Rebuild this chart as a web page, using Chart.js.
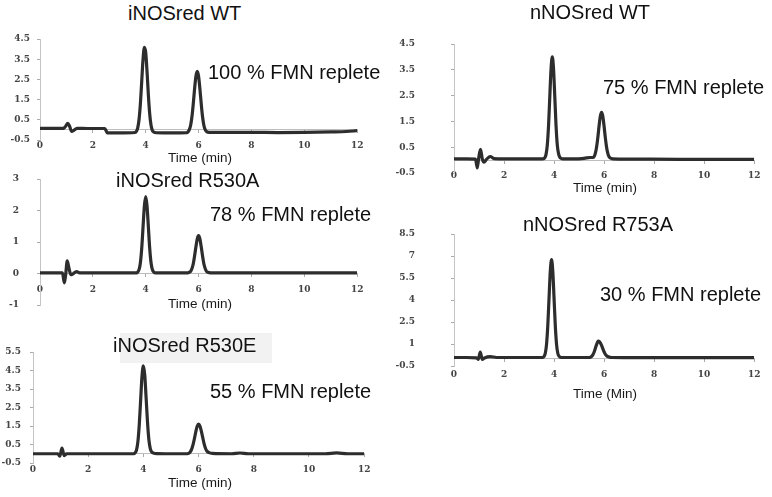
<!DOCTYPE html>
<html>
<head>
<meta charset="utf-8">
<script src="https://cdn.jsdelivr.net/npm/chart.js@4.4.1/dist/chart.umd.min.js"></script>
<style>
  body { margin: 0; background: #fff; width: 772px; height: 497px; overflow: hidden; position: relative;
         font-family: "Liberation Sans", Arial, sans-serif; }
  canvas { position: absolute; }
  .lbl { position: absolute; font-size: 20px; line-height: 20px; color: #111; white-space: nowrap; }
  .xt { position: absolute; width: 120px; text-align: center; font-size: 13.5px; line-height: 14px; color: #1a1a1a; }
  .shade { position: absolute; background: #f2f2f2; }
</style>
</head>
<body>
<div class="shade" style="left:120px;top:333px;width:152px;height:30px"></div>

<canvas id="c1"></canvas>
<canvas id="c2"></canvas>
<canvas id="c3"></canvas>
<canvas id="c4"></canvas>
<canvas id="c5"></canvas>

<div class="lbl" style="left:128px;top:3px">iNOSred WT</div>
<div class="lbl" style="left:208px;top:62px">100 % FMN replete</div>
<div class="lbl" style="left:116px;top:170px">iNOSred R530A</div>
<div class="lbl" style="left:210px;top:204px">78 % FMN replete</div>
<div class="lbl" style="left:113px;top:335px">iNOSred R530E</div>
<div class="lbl" style="left:210px;top:381px">55 % FMN replete</div>
<div class="lbl" style="left:530px;top:2px">nNOSred WT</div>
<div class="lbl" style="left:603px;top:77px">75 % FMN replete</div>
<div class="lbl" style="left:523px;top:214px">nNOSred R753A</div>
<div class="lbl" style="left:600px;top:284px">30 % FMN replete</div>

<div class="xt" style="left:140px;top:151px">Time (min)</div>
<div class="xt" style="left:140px;top:297px">Time (min)</div>
<div class="xt" style="left:140px;top:476px">Time (min)</div>
<div class="xt" style="left:545px;top:181px">Time (min)</div>
<div class="xt" style="left:545px;top:387px">Time (Min)</div>

<script>
// iNOSred WT
const iwtTime = [0, 0.5, 0.9, 0.98, 1.05, 1.12, 1.2, 1.28, 1.4, 1.8, 2.45, 2.55, 3.0,
  3.6, 3.65, 3.7, 3.75, 3.8, 3.85, 3.9, 3.95, 4.0, 4.05, 4.1, 4.15, 4.2, 4.25, 4.3, 4.4, 5.0,
  5.55, 5.6, 5.65, 5.7, 5.75, 5.8, 5.85, 5.9, 5.95, 6.0, 6.05, 6.1, 6.15, 6.2, 6.25, 6.3, 6.4,
  7, 8, 9, 10, 11, 11.6, 12];
const iwtSignal = [0.08, 0.08, 0.08, 0.2, 0.33, 0.18, -0.08, -0.02, 0.08, 0.07, 0.07, -0.15, -0.15,
  -0.13, -0.07, 0.11, 0.54, 1.32, 2.43, 3.51, 4.09, 3.83, 2.89, 1.74, 0.81, 0.24, -0.02, -0.1, -0.14, -0.15,
  -0.14, -0.1, 0.01, 0.23, 0.66, 1.3, 2.04, 2.66, 2.9, 2.66, 2.04, 1.3, 0.66, 0.23, 0.01, -0.08, -0.12,
  -0.12, -0.12, -0.13, -0.12, -0.1, -0.08, -0.04];

// iNOSred R530A
const iaTime = [0, 0.5, 0.85, 0.92, 0.97, 1.03, 1.1, 1.17, 1.25, 1.38, 1.5, 2, 3,
  3.65, 3.7, 3.75, 3.8, 3.85, 3.9, 3.95, 4.0, 4.05, 4.1, 4.15, 4.2, 4.25, 4.3, 4.38, 5,
  5.6, 5.65, 5.7, 5.75, 5.8, 5.85, 5.9, 5.95, 6.0, 6.05, 6.1, 6.15, 6.2, 6.25, 6.3, 6.35, 6.45,
  8, 10, 12];
const iaSignal = [0.02, 0.02, 0.02, -0.3, -0.05, 0.4, 0.15, -0.04, -0.01, 0.06, 0.02, 0.02, 0.02,
  0.02, 0.05, 0.13, 0.35, 0.81, 1.49, 2.15, 2.44, 2.15, 1.49, 0.81, 0.35, 0.13, 0.05, 0.02, 0.02,
  0.02, 0.04, 0.07, 0.16, 0.31, 0.56, 0.85, 1.1, 1.2, 1.1, 0.85, 0.56, 0.31, 0.16, 0.07, 0.04, 0.02,
  0.02, 0.02, 0.02];

// iNOSred R530E
const ieTime = [0, 0.5, 0.9, 0.97, 1.05, 1.13, 1.22, 2, 3,
  3.65, 3.7, 3.75, 3.8, 3.85, 3.9, 3.95, 4.0, 4.05, 4.1, 4.15, 4.2, 4.25, 4.3, 4.38, 4.5, 5.2,
  5.6, 5.65, 5.7, 5.75, 5.8, 5.85, 5.9, 5.95, 6.0, 6.05, 6.1, 6.15, 6.2, 6.25, 6.3, 6.38, 6.5,
  7.2, 7.5, 7.8, 9, 10.6, 11, 11.4, 12];
const ieSignal = [0, 0, 0, -0.13, 0.3, -0.1, 0, 0, 0,
  0, 0.05, 0.2, 0.64, 1.55, 2.88, 4.19, 4.75, 4.25, 3.0, 1.7, 0.75, 0.28, 0.1, 0.03, 0.01, 0,
  0, 0.03, 0.1, 0.25, 0.49, 0.82, 1.19, 1.49, 1.6, 1.5, 1.22, 0.88, 0.55, 0.3, 0.15, 0.06, 0.02,
  0, 0.04, 0, 0, 0, 0.05, 0, 0];

// nNOSred WT
const nwtTime = [0, 0.5, 0.86, 0.93, 0.99, 1.06, 1.13, 1.2, 1.3, 1.45, 1.6, 2, 3,
  3.55, 3.63, 3.68, 3.73, 3.78, 3.83, 3.88, 3.93, 3.98, 4.03, 4.08, 4.13, 4.18, 4.23, 4.28, 4.35,
  4.8, 5.2, 5.45,
  5.55, 5.6, 5.65, 5.7, 5.75, 5.8, 5.85, 5.9, 5.95, 6.0, 6.05, 6.1, 6.15, 6.2, 6.25, 6.35,
  7, 9, 11, 12];
const nwtSignal = [0.05, 0.05, 0.04, -0.3, 0.1, 0.42, 0.05, -0.08, 0.03, 0.14, 0.06, 0.05, 0.05,
  0.05, 0.09, 0.22, 0.58, 1.33, 2.45, 3.53, 4.0, 3.53, 2.45, 1.33, 0.58, 0.25, 0.11, 0.07, 0.05,
  0.05, 0.07, 0.1,
  0.1, 0.13, 0.26, 0.5, 0.87, 1.32, 1.7, 1.85, 1.7, 1.32, 0.87, 0.5, 0.26, 0.13, 0.08, 0.05,
  0.04, 0.03, 0.03, 0.03];

// nNOSred R753A
const naTime = [0, 0.5, 0.9, 0.97, 1.05, 1.13, 1.22, 1.45, 1.7, 2.5,
  3.55, 3.6, 3.65, 3.7, 3.75, 3.8, 3.85, 3.9, 3.95, 4.0, 4.05, 4.1, 4.15, 4.2, 4.25, 4.35, 5.0,
  5.4, 5.45, 5.5, 5.55, 5.6, 5.65, 5.7, 5.75, 5.78, 5.85, 5.9, 5.95, 6.0, 6.05, 6.1, 6.2, 6.3,
  7, 9, 11, 12];
const naSignal = [0.08, 0.08, 0.06, -0.05, 0.45, -0.05, 0.05, 0.14, 0.08, 0.08,
  0.08, 0.15, 0.37, 0.98, 2.25, 4.13, 5.96, 6.75, 5.96, 4.13, 2.25, 0.98, 0.37, 0.17, 0.1, 0.08, 0.08,
  0.08, 0.1, 0.15, 0.26, 0.44, 0.7, 0.96, 1.17, 1.2, 1.08, 0.9, 0.68, 0.47, 0.3, 0.2, 0.11, 0.08,
  0.07, 0.07, 0.07, 0.07];

const tickFont = {family: "'DejaVu Serif', serif", size: 9, weight: 'bold'};

// where each small plot sits on the page
const boxes = {
  c1: {left: 0, axisX: 40, rightX: 359, topY: 39, botY: 140, labelPad: 7},
  c2: {left: 0, axisX: 40, rightX: 359, topY: 179, botY: 305, labelPad: 18},
  c3: {left: 0, axisX: 33, rightX: 366, topY: 352, botY: 463, labelPad: 9},
  c4: {left: 390, axisX: 454, rightX: 756, topY: 44, botY: 173, labelPad: 36},
  c5: {left: 390, axisX: 454, rightX: 756, topY: 234, botY: 366, labelPad: 36}
};

function makePanel(id, times, signal, yMin, yMax, yStep) {
  const p = boxes[id];
  const cv = document.getElementById(id);
  const yWidth = p.axisX - p.left;
  // the y axis asks for half a label plus its tick padding above the plot
  const top = Math.ceil(p.labelPad + 5.4);
  cv.width = p.rightX - p.left + 12;
  cv.height = p.botY - p.topY + top + 50;
  cv.style.left = p.left + 'px';
  cv.style.top = (p.topY - top) + 'px';

  new Chart(cv, {
    type: 'line',
    data: {
      datasets: [{
        data: times.map((x, i) => ({x, y: signal[i]})),
        borderColor: '#2d2d2d',
        borderWidth: 3.2,
        pointRadius: 0,
        cubicInterpolationMode: 'monotone',
        fill: false
      }]
    },
    options: {
      responsive: false,
      animation: false,
      events: [],
      layout: {padding: {top: top, right: 12, bottom: 50, left: 0}},
      plugins: {legend: {display: false}, tooltip: {enabled: false}},
      scales: {
        x: {
          type: 'linear', min: 0, max: 12, position: {y: 0},
          border: {color: '#bdbdbd', dash: [2, 2]},
          grid: {drawOnChartArea: false, tickLength: 3, color: '#aaa'},
          ticks: {stepSize: 2, padding: 7.6, color: '#444', font: tickFont, maxRotation: 0, autoSkip: false,
                  callback: v => String(v)}
        },
        y: {
          type: 'linear', min: yMin, max: yMax,
          afterFit: s => { s.width = yWidth; },
          border: {color: '#c4c4c4'},
          grid: {drawOnChartArea: false, tickLength: 3, color: '#aaa'},
          ticks: {stepSize: yStep, padding: p.labelPad, color: '#444', font: tickFont,
                  callback: v => String(Math.round(v * 10) / 10)}
        }
      }
    }
  });
}

makePanel('c1', iwtTime, iwtSignal, -0.5, 4.5, 1);
makePanel('c2', iaTime, iaSignal, -1, 3, 1);
makePanel('c3', ieTime, ieSignal, -0.5, 5.5, 1);
makePanel('c4', nwtTime, nwtSignal, -0.5, 4.5, 1);
makePanel('c5', naTime, naSignal, -0.5, 8.5, 1.5);
</script>
</body>
</html>
